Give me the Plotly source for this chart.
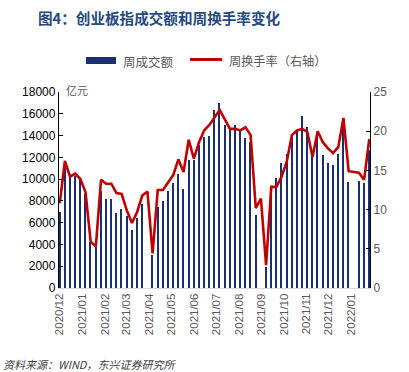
import pandas as pd
import plotly.graph_objects as go

# weekly dates (Fridays)
start_date = "2020-12-04"
n_weeks = 61
dates = pd.date_range(start_date, periods=n_weeks, freq="7D")

# 周成交额 (亿元), None = no bar
turnover_amt = [7000, 11400, 10300, 10300, 10000, 8600, 4250, 3800, 8900, 8200,
                8200, 6850, 7300, 6600, 5300, 6400, 7700, None, 3050, 7400,
                7950, 8900, 9600, 10500, 9050, 11740, 11740, 13100, 13850, 13950,
                16350, 17030, 15000, 14500, 15000, 14400, 13750, 13400, 6700, None,
                1950, 9300, 10060, 11450, 12350, 13870, 14400, 15800, 14800, 12050,
                13950, 12250, 11450, 11280, 12350, 15000, 9700, None, 9800, 9600,
                12700]

# 周换手率 (%), right axis
turnover_rate = [10.8, 16.2, 14.2, 14.6, 13.9, 12.2, 5.9, 5.3, 13.8, 13.3,
                 13.3, 12.1, 12.0, 9.9, 8.3, 9.7, 11.8, 12.3, 4.4, 12.5,
                 12.5, 13.5, 14.4, 16.4, 14.8, 18.9, 16.5, 18.6, 20.1, 20.8,
                 21.7, 22.7, 21.5, 20.3, 20.3, 20.1, 20.5, 19.5, 10.2, 11.4,
                 2.9, 12.9, 12.9, 14.2, 16.1, 19.5, 20.1, 20.3, 19.9, 16.7,
                 20.0, 18.6, 17.8, 17.2, 18.0, 21.7, 14.9, 14.8, 14.7, 13.8,
                 19.0]

left_ticks = list(range(0, 18001, 2000))
right_ticks = list(range(0, 26, 5))

title_text = "图4：创业板指成交额和周换手率变化"
legend_names = ["周成交额", "周换手率（右轴）"]
unit_text = "亿元"
source_text = "资料来源：WIND，东兴证券研究所"

BAR_C = "#1a2f70"
LINE_C = "#C00000"
GREY = "#595959"
FONT = "Liberation Sans, Noto Sans CJK SC, sans-serif"
CJK = "Noto Sans CJK SC, sans-serif"

W, H = 409, 372
L, R, T, B = 59, 39, 92, 84
pw, ph = W - L - R, H - T - B


def px(x):
    return (x - L) / pw


def py(y):
    return (H - B - y) / ph


fig = go.Figure()
fig.add_trace(go.Bar(
    x=dates, y=turnover_amt, name=legend_names[0],
    marker=dict(color=BAR_C, line=dict(width=0)),
    width=1.9 * 86400000, yaxis="y", showlegend=False,
))
fig.add_trace(go.Scatter(
    x=dates, y=turnover_rate, name=legend_names[1], mode="lines",
    line=dict(color=LINE_C, width=2.6), yaxis="y2", showlegend=False,
))

x0 = dates[0] - pd.Timedelta(days=1)
x1 = dates[-1] + pd.Timedelta(days=1)

fig.update_layout(
    width=W, height=H,
    margin=dict(l=L, r=R, t=T, b=B, autoexpand=False),
    paper_bgcolor="white", plot_bgcolor="white",
    font=dict(family=FONT, size=12, color="black"),
    bargap=0,
    xaxis=dict(
        type="date", range=[x0, x1], tick0=start_date, dtick="M1",
        tickformat="%Y/%m", tickangle=-90, showgrid=False, zeroline=False,
        showline=True, linecolor="#d9d9d9", linewidth=1, ticks="",
        tickfont=dict(size=11.5, color=GREY, family=FONT),
    ),
    yaxis=dict(
        range=[0, 18000], tickvals=left_ticks, tickformat="d",
        showgrid=False, zeroline=False,
        showline=True, linecolor="black", linewidth=1.3,
        ticks="inside", ticklen=4, tickcolor="black",
        tickfont=dict(size=12, color="black", family=FONT),
    ),
    yaxis2=dict(
        range=[0, 25], tickvals=right_ticks, overlaying="y", side="right",
        showgrid=False, zeroline=False, showline=True, linecolor="black",
        linewidth=1.3, ticks="inside", ticklen=4, tickcolor="black",
        tickfont=dict(size=12, color=GREY, family=FONT),
    ),
    showlegend=False,
)

# manual legend
fig.add_shape(type="rect", xref="paper", yref="paper",
              x0=px(86), x1=px(116), y0=py(64), y1=py(57),
              fillcolor=BAR_C, line=dict(width=0))
fig.add_shape(type="line", xref="paper", yref="paper",
              x0=px(190), x1=px(222), y0=py(59.5), y1=py(59.5),
              line=dict(color=LINE_C, width=3))
fig.add_annotation(text=legend_names[0], xref="paper", yref="paper",
                   x=px(121), y=py(61), xanchor="left", yanchor="middle",
                   showarrow=False, font=dict(size=12.5, color=GREY, family=CJK))
fig.add_annotation(text=legend_names[1], xref="paper", yref="paper",
                   x=px(227), y=py(61), xanchor="left", yanchor="middle",
                   showarrow=False, font=dict(size=12.2, color=GREY, family=CJK))

# title
fig.add_annotation(text="<b>" + title_text + "</b>", xref="paper", yref="paper",
                   x=px(36), y=py(17), xanchor="left", yanchor="middle",
                   showarrow=False, font=dict(size=14.6, color="#264a7e", family=CJK))
# unit
fig.add_annotation(text=unit_text, xref="paper", yref="paper",
                   x=px(64), y=py(90), xanchor="left", yanchor="middle",
                   showarrow=False, font=dict(size=11, color=GREY, family=CJK))
# source
fig.add_annotation(text="<i>" + source_text + "</i>", xref="paper", yref="paper",
                   x=px(1), y=py(364), xanchor="left", yanchor="middle",
                   showarrow=False, font=dict(size=11, color="#404040", family=CJK))

fig.write_html("out.html", config={"displayModeBar": False},
               post_script="document.body.style.margin='0px';document.body.style.overflow='hidden';")
